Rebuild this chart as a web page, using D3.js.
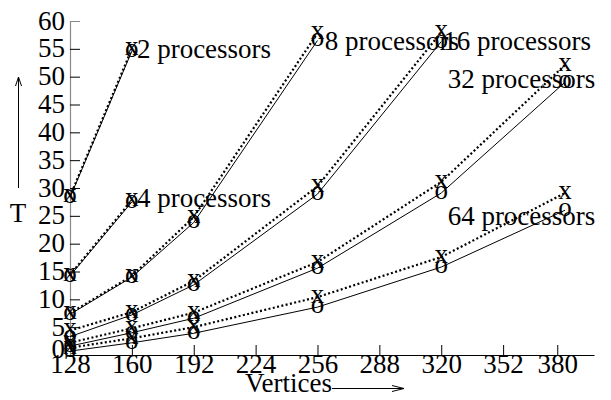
<!DOCTYPE html>
<html>
<head>
<meta charset="utf-8">
<script src="https://cdn.jsdelivr.net/npm/d3@7"></script>
<style>
  html, body { margin: 0; padding: 0; background: #fff; }
  svg { display: block; }
  svg text { font-family: "Liberation Serif", "Times New Roman", serif; fill: #000; }
</style>
</head>
<body>
<svg id="chart" width="611" height="400"></svg>
<script>
// Run time T against graph size (vertices) for each processor count.
const vertices = [128, 160, 192, 256, 320, 384];
const processors = [2, 4, 8, 16, 32, 64];

// 'x' series (dotted line)
const timesX = [
  [28.5, 55.0],
  [14.4, 27.8],
  [7.5, 14.2, 24.8, 57.8],
  [4.4, 7.7, 13.3, 30.3, 58.0],
  [2.2, 4.8, 7.6, 16.7, 31.1, 52.1],
  [1.3, 3.0, 5.0, 10.4, 17.6, 29.1]
];

// 'o' series (solid line)
const timesO = [
  [28.3, 54.6],
  [14.2, 27.5],
  [7.3, 14.0, 23.8, 56.5],
  [3.3, 7.2, 12.6, 28.9, 56.3],
  [1.6, 4.0, 6.6, 15.6, 29.1, 49.0],
  [0.7, 2.2, 3.9, 8.6, 15.8, 26.0]
];

const xTicks = [128, 160, 192, 224, 256, 288, 320, 352, 380];
const yTicks = [0, 5, 10, 15, 20, 25, 30, 35, 40, 45, 50, 55, 60];

const labelText = processors.map(p => p + " processors");
// label anchor (vertices, T) for each curve
const labelVertices = [162.6, 162.6, 259.8, 321.0, 323.3, 323.3];
const labelT = [53.3, 26.6, 54.8, 54.8, 48.0, 23.4];

const svg = d3.select("#chart");
const FS = 27;

const x = d3.scaleLinear().domain([128, 399]).range([70, 594]);
const y = d3.scaleLinear().domain([0, 60]).range([355, 21]);

// y axis: grey spine, ticks pointing into the plot, labels on the left
const yAxis = svg.append("g")
  .attr("transform", `translate(${x(128)},0)`)
  .call(d3.axisLeft(y).tickValues(yTicks).tickSize(-10).tickSizeOuter(-10).tickPadding(5));
yAxis.attr("font-family", null).attr("font-size", null);
yAxis.select(".domain").attr("stroke", "#8a8a8a").attr("stroke-width", 1.2);
yAxis.selectAll(".tick line").attr("stroke", "#000");
yAxis.selectAll(".tick").filter(d => d === 60).select("line").remove();
yAxis.selectAll(".tick text")
  .style("font-size", FS + "px").attr("fill", "#000")
  .attr("dy", d => d === 0 ? "0.08em" : "0.3em");

// x axis: ticks pointing up, labels below
const xAxis = svg.append("g")
  .attr("transform", `translate(0,${y(0)})`)
  .call(d3.axisBottom(x).tickValues(xTicks).tickSize(-10).tickSizeOuter(0).tickPadding(0));
xAxis.attr("font-family", null).attr("font-size", null);
xAxis.select(".domain").attr("stroke", "#000");
xAxis.selectAll(".tick").filter(d => d === 128).select("line").remove();
xAxis.selectAll(".tick text")
  .style("font-size", FS + "px").attr("fill", "#000")
  .attr("dy", "0.68em");

// axis titles with arrows
const xMid = (x.range()[0] + x.range()[1]) / 2;
svg.append("text").attr("x", xMid).attr("y", 392)
  .attr("text-anchor", "end").style("font-size", FS + "px").text("Vertices");
svg.append("path")
  .attr("d", `M${xMid},388.5H${xMid + 72}M${xMid + 60},385.5L${xMid + 72},388.5L${xMid + 60},391.5`)
  .attr("fill", "none").attr("stroke", "#000").attr("stroke-width", 1);

svg.append("text").attr("x", 18).attr("y", 222)
  .attr("text-anchor", "middle").style("font-size", FS + "px").text("T");
svg.append("path")
  .attr("d", "M18.5,188V77M15.5,86L18.5,77L21.5,86")
  .attr("fill", "none").attr("stroke", "#000").attr("stroke-width", 1);

const line = d3.line().x(d => x(d[0])).y(d => y(d[1]));
const plot = svg.append("g");

processors.forEach((p, i) => {
  const ptsO = timesO[i].map((t, j) => [vertices[j], t]);
  const ptsX = timesX[i].map((t, j) => [vertices[j], t]);

  plot.append("path").datum(ptsO).attr("d", line)
    .attr("fill", "none").attr("stroke", "#000").attr("stroke-width", 1);
  plot.append("path").datum(ptsX).attr("d", line)
    .attr("fill", "none").attr("stroke", "#000").attr("stroke-width", 2.2)
    .attr("stroke-dasharray", "2,2.4");

  plot.selectAll(null).data(ptsO).enter().append("text")
    .attr("x", d => x(d[0])).attr("y", d => y(d[1]))
    .attr("dy", "0.22em").attr("text-anchor", "middle").style("font-size", FS + "px").text("o");
  plot.selectAll(null).data(ptsX).enter().append("text")
    .attr("x", d => x(d[0])).attr("y", d => y(d[1]))
    .attr("dy", "0.22em").attr("text-anchor", "middle").style("font-size", FS + "px").text("x");

  plot.append("text")
    .attr("x", x(labelVertices[i])).attr("y", y(labelT[i]))
    .style("font-size", FS + "px").text(labelText[i]);
});
</script>
</body>
</html>
